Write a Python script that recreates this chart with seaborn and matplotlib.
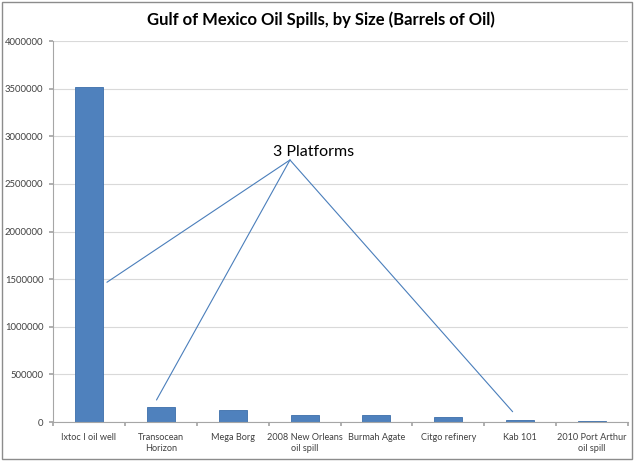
import numpy as np
import pandas as pd
import seaborn as sns
import matplotlib.pyplot as plt
from matplotlib.patches import Rectangle

# spill names and sizes (barrels)
spills = ["Ixtoc I oil well", "Transocean\nHorizon", "Mega Borg", "2008 New Orleans\noil spill",
          "Burmah Agate", "Citgo refinery", "Kab 101", "2010 Port Arthur\noil spill"]
barrels = [3520000, 153000, 128000, 73000, 69000, 52000, 21000, 15000]

df = pd.DataFrame({"Spill": spills, "Barrels": barrels})

sns.set_theme(style="white")
plt.rcParams['font.family'] = ['Lato', 'DejaVu Sans']

fig = plt.figure(figsize=(6.4, 4.65), dpi=100)
ax = fig.add_axes([53 / 640, 1 - 422 / 465, 575 / 640, 381 / 465])

sns.barplot(data=df, x="Spill", y="Barrels", color="#4F81BD", width=0.39,
            edgecolor="#3C6EAA", linewidth=0.6, saturation=1, ax=ax)

ax.set_ylim(0, 4000000)
ax.set_xlim(-0.5, len(spills) - 0.5)
ax.set_yticks(np.arange(0, 4000001, 500000))
ax.set_yticklabels([str(v) for v in range(0, 4000001, 500000)])
ax.yaxis.grid(True, color="#D9D9D9", linewidth=0.8)
ax.set_axisbelow(True)
ax.set_xlabel("")
ax.set_ylabel("")

for side in ["top", "right"]:
    ax.spines[side].set_visible(False)
for side in ["left", "bottom"]:
    ax.spines[side].set_color("#A6A6A6")
    ax.spines[side].set_linewidth(0.8)

# tick marks between categories; category names written centred under each bar
ax.set_xticks(np.arange(-0.5, len(spills) + 0.5, 1))
ax.set_xticklabels([])
ax.tick_params(axis="x", length=3, color="#A6A6A6", bottom=True)
ax.tick_params(axis="y", length=3, color="#A6A6A6", left=True, labelsize=6.8, labelcolor="#404040", pad=4)
for i, name in enumerate(spills):
    ax.text(i, -0.028, name, transform=ax.get_xaxis_transform(), ha="center", va="top",
            multialignment="center", fontsize=6.6, color="#404040", linespacing=1.3)

fig.text(321 / 640, 1 - 20 / 465, "Gulf of Mexico Oil Spills, by Size (Barrels of Oil)",
         ha="center", va="center", fontsize=12, fontweight="bold", color="black")

# annotation lines from one apex to three bars
apex = (2.797, 2751000)
for end in [(0.25, 1467000), (0.94, 231000), (5.895, 108000)]:
    ax.plot([apex[0], end[0]], [apex[1], end[1]], color="#4A7EBB", linewidth=0.8)
ax.text(3.13, 2830000, "3 Platforms", ha="center", va="center", fontsize=11.5, color="black")

fig.patches.append(Rectangle((2 / 640, 1 - 459 / 465), 630 / 640, 457 / 465,
                             transform=fig.transFigure, fill=False,
                             edgecolor="#8C8C8C", linewidth=1))

fig.savefig("out.png", dpi=100)
